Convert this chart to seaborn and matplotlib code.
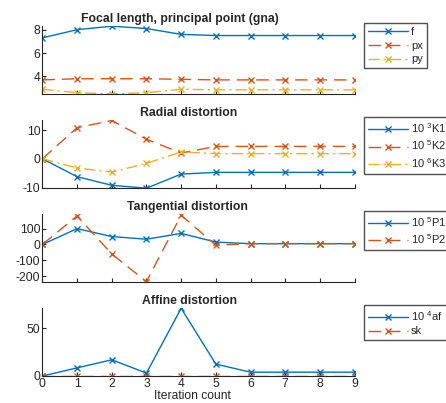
import numpy as np
import pandas as pd
import matplotlib
matplotlib.use('Agg')
import matplotlib.pyplot as plt
import seaborn as sns

# ── data ─────────────────────────────────────────────
iters = [0, 1, 2, 3, 4, 5, 6, 7, 8, 9]

f_vals  = [7.3, 8.0, 8.3, 8.1, 7.6, 7.5, 7.5, 7.5, 7.5, 7.5]
px_vals = [3.7, 3.8, 3.8, 3.8, 3.75, 3.7, 3.7, 3.7, 3.7, 3.7]
py_vals = [2.9, 2.6, 2.5, 2.6, 2.9, 2.85, 2.85, 2.85, 2.85, 2.85]

k1_vals = [0, -6.2, -9.2, -10.2, -5.3, -4.7, -4.7, -4.7, -4.7, -4.7]
k2_vals = [0, 10.8, 13.3, 6.8, 2.0, 4.3, 4.3, 4.3, 4.3, 4.3]
k3_vals = [0, -3.2, -4.6, -1.6, 2.4, 1.8, 1.8, 1.8, 1.8, 1.8]

p1_vals = [0, 100, 50, 33, 70, 15, 5, 5, 5, 5]
p2_vals = [0, 180, -60, -235, 185, -5, 5, 5, 5, 5]

af_vals = [0, 8.5, 17, 3, 71, 12.5, 4, 4, 4, 4]
sk_vals = [0, 0, 0, 0, 0, 0, 0, 0, 0, 0]

titles = ['Focal length, principal point (gna)', 'Radial distortion',
          'Tangential distortion', 'Affine distortion']
panels = [
    [('f', f_vals), ('px', px_vals), ('py', py_vals)],
    [('10 $^3$K1', k1_vals), ('10 $^5$K2', k2_vals), ('10 $^6$K3', k3_vals)],
    [('10 $^5$P1', p1_vals), ('10 $^5$P2', p2_vals)],
    [('10 $^4$af', af_vals), ('sk', sk_vals)],
]
yticks = [[4, 6, 8], [-10, 0, 10], [-200, -100, 0, 100], [0, 50]]
ylims = [(2.5, 8.3), (-10.2, 13.3), (-238, 190), (0, 71)]

colors = ['#0072BD', '#D95319', '#EDB120']
dash_list = ['', (9, 5), (8, 3, 1.5, 3)]

# ── layout ───────────────────────────────────────────
bottoms = [0.767, 0.533, 0.300, 0.067]
title_x = [0.44, 0.47, 0.465, 0.47]   # titles sit a bit left of centre

# ── plot ─────────────────────────────────────────────
sns.set_style('ticks')
plt.rcParams['font.family'] = ['Liberation Sans', 'DejaVu Sans']
plt.rcParams['mathtext.fontset'] = 'custom'
plt.rcParams['mathtext.rm'] = 'Liberation Sans'
plt.rcParams['axes.unicode_minus'] = False
plt.rcParams['xtick.direction'] = 'in'
plt.rcParams['ytick.direction'] = 'in'

fig = plt.figure(figsize=(4.46, 4.03), dpi=100)

for i, series in enumerate(panels):
    ax = fig.add_axes([0.095, bottoms[i], 0.70, 0.168])
    rows = []
    for name, vals in series:
        for it, v in zip(iters, vals):
            rows.append({'it': it, 'v': v, 'series': name})
    df = pd.DataFrame(rows)
    names = [s[0] for s in series]
    n = len(names)
    sns.lineplot(data=df, x='it', y='v', hue='series', style='series',
                 hue_order=names, style_order=names,
                 palette=colors[:n], dashes=dash_list[:n],
                 markers=['x'] * n, markersize=5, markeredgewidth=1.0,
                 linewidth=1.0, legend=False, ax=ax)
    # seaborn draws marker edges white; x markers need the line colour
    for ln in ax.lines:
        ln.set_markeredgecolor(ln.get_color())
    ax.set_xlim(0, 9)
    ax.set_ylim(*ylims[i])
    ax.set_xticks(iters)
    ax.set_yticks(yticks[i])
    ax.set_xlabel('')
    ax.set_ylabel('')
    ax.set_title(titles[i], fontsize=8.8, fontweight='bold', pad=3)
    ax.title.set_x(title_x[i])
    if i < 3:
        ax.set_xticklabels([])
    sns.despine(ax=ax)
    for s in ['left', 'bottom']:
        ax.spines[s].set_color('#262626')
    ax.tick_params(labelsize=8.7, colors='#262626', length=3, pad=1.5)
    ax.legend(handles=ax.lines[:n], labels=names, loc='upper left',
              bbox_to_anchor=(1.03, 1.05), frameon=True,
              fancybox=False, edgecolor='#262626', fontsize=8,
              handlelength=3.6, borderpad=0.35, labelspacing=0.35,
              handletextpad=0.3, borderaxespad=0)

last = fig.axes[-1]
last.set_xlabel('Iteration count', fontsize=8.7, color='#262626', labelpad=1)
last.xaxis.set_label_coords(0.48, -0.2)

plt.savefig('out.png', dpi=100)
